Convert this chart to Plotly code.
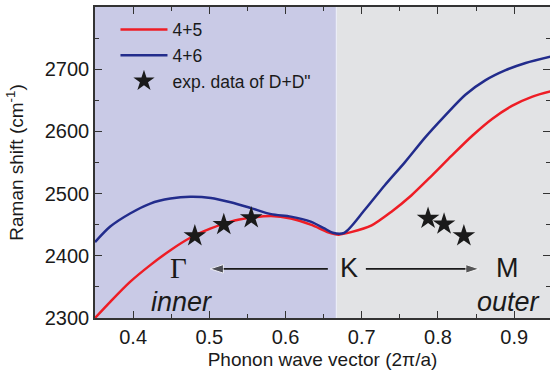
import plotly.graph_objects as go

# --- data ---
x_red = [0.35, 0.37, 0.396, 0.4225, 0.449, 0.475, 0.502, 0.528, 0.554, 0.581, 0.607, 0.633, 0.66, 0.67,
         0.686, 0.713, 0.739, 0.765, 0.792, 0.818, 0.845, 0.871, 0.897, 0.924, 0.95]
y_red = [2300, 2326, 2358, 2385, 2409, 2429, 2444, 2455, 2461, 2464, 2460, 2450, 2436, 2434,
         2438, 2449, 2471, 2497, 2529, 2561, 2593, 2620, 2641, 2656, 2665]
x_blue = [0.35, 0.37, 0.396, 0.4225, 0.449, 0.475, 0.502, 0.528, 0.554, 0.581, 0.607, 0.633, 0.651, 0.662,
          0.677, 0.704, 0.73, 0.757, 0.783, 0.809, 0.836, 0.862, 0.888, 0.915, 0.95]
y_blue = [2422, 2447, 2468, 2484, 2492, 2495, 2493, 2486, 2477, 2467, 2463, 2455, 2444, 2437,
          2437, 2474, 2513, 2551, 2590, 2625, 2659, 2682, 2698, 2710, 2721]
x_exp = [0.481, 0.519, 0.555, 0.787, 0.808, 0.834]
y_exp = [2432, 2450, 2461, 2460, 2451, 2432]

K_POINT = 0.6667
X_RANGE = [0.35, 0.947]
Y_RANGE = [2300, 2800]

RED = "#ee1d25"
BLUE = "#222c8c"
INK = "#1a1a1a"
FONT = "Liberation Sans, Arial, sans-serif"

fig = go.Figure()
fig.add_trace(go.Scatter(x=x_red, y=y_red, mode="lines", name="4+5",
                         line=dict(color=RED, width=2.5, shape="spline", smoothing=0.8)))
fig.add_trace(go.Scatter(x=x_blue, y=y_blue, mode="lines", name="4+6",
                         line=dict(color=BLUE, width=2.5, shape="spline", smoothing=0.8)))
fig.add_trace(go.Scatter(x=x_exp, y=y_exp, mode="markers", name="exp. data of D+D\"",
                         marker=dict(symbol="star", size=17, color=INK, line=dict(width=0))))

# arrows Γ <- K -> M
fig.add_trace(go.Scatter(x=[0.6555, 0.501], y=[2379, 2379], mode="lines+markers", showlegend=False,
                         hoverinfo="skip", line=dict(color=INK, width=1.6),
                         marker=dict(symbol="arrow", size=[0, 14], angleref="previous", color=INK)))
fig.add_trace(go.Scatter(x=[0.7054, 0.854], y=[2379, 2379], mode="lines+markers", showlegend=False,
                         hoverinfo="skip", line=dict(color=INK, width=1.6),
                         marker=dict(symbol="arrow", size=[0, 14], angleref="previous", color=INK)))

# shaded region (inner)
fig.add_shape(type="rect", xref="x", yref="y", x0=0.34, x1=K_POINT, y0=Y_RANGE[0], y1=Y_RANGE[1],
              fillcolor="#c9cae6", line=dict(width=0), layer="below")
fig.add_shape(type="line", xref="x", yref="y", x0=K_POINT, x1=K_POINT, y0=Y_RANGE[0], y1=Y_RANGE[1],
              line=dict(color="#eceef7", width=1.2), layer="below")

big = dict(family=FONT, size=27, color=INK)
fig.add_annotation(x=0.460, y=2380, xref="x", yref="y", text="Γ", showarrow=False,
                   font=dict(family="Liberation Serif, serif", size=29, color=INK))
fig.add_annotation(x=0.683, y=2380, xref="x", yref="y", text="K", showarrow=False, font=big)
fig.add_annotation(x=0.891, y=2380, xref="x", yref="y", text="M", showarrow=False, font=big)
ital = dict(family=FONT, size=27, color=INK)
fig.add_annotation(x=0.4633, y=2326, xref="x", yref="y", text="<i>inner</i>", showarrow=False, font=ital)
fig.add_annotation(x=0.8924, y=2326, xref="x", yref="y", text="<i>outer</i>", showarrow=False, font=ital)

axis_common = dict(showline=True, linecolor="#333333", linewidth=1.5, mirror="allticks",
                   ticks="inside", ticklen=7, tickwidth=1.2, tickcolor="#333333",
                   showgrid=False, zeroline=False, automargin=False,
                   tickfont=dict(family=FONT, size=20, color=INK))

fig.update_xaxes(range=X_RANGE, tickvals=[0.4, 0.5, 0.6, 0.7, 0.8, 0.9],
                 ticktext=["0.4", "0.5", "0.6", "0.7", "0.8", "0.9"],
                 minor=dict(tickvals=[0.35, 0.45, 0.55, 0.65, 0.75, 0.85, 0.95],
                            ticks="inside", ticklen=4, tickcolor="#333333", tickwidth=1.2),
                 title=dict(text="Phonon wave vector (2π/a)", standoff=6,
                            font=dict(family=FONT, size=19, color=INK)),
                 **axis_common)
fig.update_yaxes(range=Y_RANGE, tickvals=[2300, 2400, 2500, 2600, 2700],
                 minor=dict(tickvals=[2350, 2450, 2550, 2650, 2750],
                            ticks="inside", ticklen=4, tickcolor="#333333", tickwidth=1.2),
                 title=dict(text="Raman shift (cm<sup>-1</sup>)", standoff=16,
                            font=dict(family=FONT, size=19, color=INK)),
                 **axis_common)

fig.update_layout(
    width=550, height=375,
    margin=dict(l=95, r=0, t=7, b=57),
    paper_bgcolor="white",
    plot_bgcolor="#e2e3e5",
    showlegend=True,
    legend=dict(x=0.045, y=0.985, xanchor="left", yanchor="top", bgcolor="rgba(0,0,0,0)",
                font=dict(family=FONT, size=17.5, color=INK),
                itemwidth=47, tracegroupgap=0),
)

fig.write_html("out.html", config={"displayModeBar": False},
               post_script="document.body.style.margin='0px';")
